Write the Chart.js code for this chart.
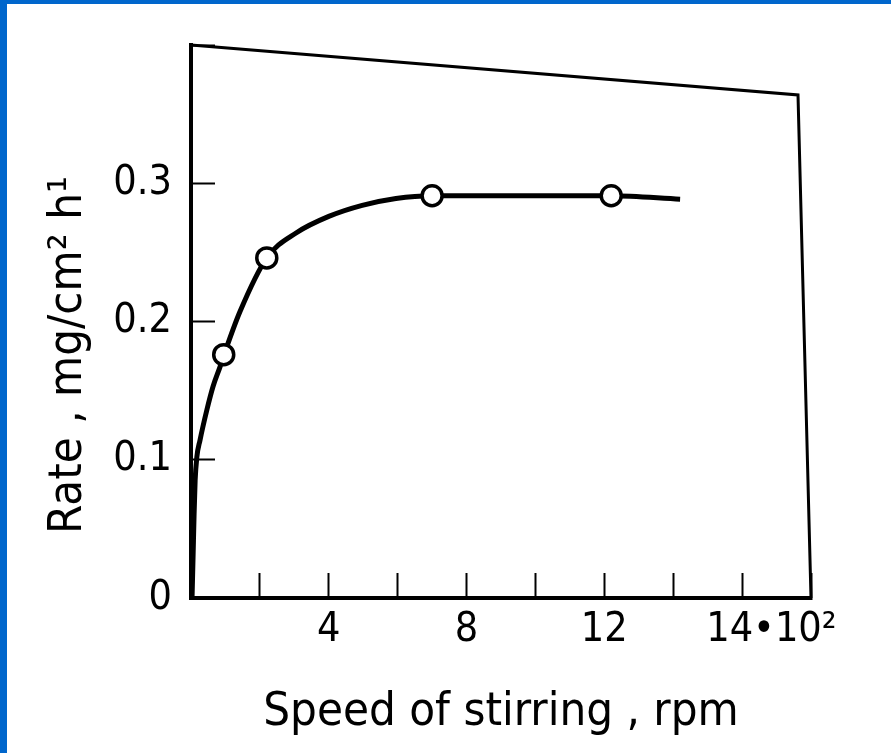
<!DOCTYPE html>
<html>
<head>
<meta charset="utf-8">
<title>Rate vs speed of stirring</title>
<script src="https://cdn.jsdelivr.net/npm/chart.js@4.4.1/dist/chart.umd.min.js"></script>
<style>
    html, body {
        margin: 0;
        padding: 0;
        width: 891px;
        height: 753px;
        background: #0066cc;
        overflow: hidden;
    }
    #frame {
        position: absolute;
        left: 7px;
        top: 4px;
        width: 884px;
        height: 749px;
        background: #ffffff;
    }
</style>
</head>
<body>
<div id="frame">
    <canvas id="myChart"></canvas>
</div>

<script>
/* Measured points (open circles), speed in 10^2 rpm */
const pointSpeed = [0.95, 2.2, 7.0, 12.2];
const pointRate = [0.176, 0.246, 0.291, 0.291];

/* Smooth curve drawn through the points */
const curveSpeed = [0.03, 0.06, 0.09, 0.12, 0.17, 0.26, 0.46, 0.64, 0.84, 0.96, 1.42, 2.2, 3.05, 4.0, 4.97, 5.95, 7.0, 9.3, 12.2, 14.2];
const curveRate = [0, 0.03, 0.061, 0.085, 0.102, 0.114, 0.136, 0.153, 0.167, 0.176, 0.207, 0.246, 0.264, 0.276, 0.284, 0.289, 0.291, 0.291, 0.291, 0.2885];

/* Axis tick labels */
const xTickValues = [4, 8, 12, 16];
const xTickLabels = ['4', '8', '12', '     14\u202210\u00b2'];
const yTickValues = [0, 0.1, 0.2, 0.3];
const yTickLabels = ['0', '0.1', '0.2', '0.3'];

const xTitle = 'Speed of stirring , rpm';
const yTitle = 'Rate , mg/cm\u00b2 h\u00b9     ';

const FONT = "'DejaVu Sans Condensed', 'Liberation Sans Narrow', 'DejaVu Sans', sans-serif";

function toXY(xs, ys) {
    return xs.map((x, i) => ({ x: x, y: ys[i] }));
}

function labelFor(value, values, labels) {
    const i = values.findIndex(v => Math.abs(v - value) < 1e-6);
    return i >= 0 ? labels[i] : '';
}

/* Fixed axis sizes, so the plot box sits where it does in the scan */
function fixSize(size) {
    return scale => {
        if (scale.isHorizontal()) {
            scale.height = size;
        } else {
            scale.width = size;
        }
        scale.paddingTop = 0;
        scale.paddingBottom = 0;
        scale.paddingLeft = 0;
        scale.paddingRight = 0;
    };
}

/* Box round the plot: right side and a slanted top edge, as in the scan */
const boxPlugin = {
    id: 'box',
    afterDraw(chart) {
        const { ctx, chartArea } = chart;
        const slant = 50;
        ctx.save();
        ctx.strokeStyle = '#000';
        ctx.lineWidth = 3;
        ctx.beginPath();
        ctx.moveTo(chartArea.left, chartArea.top);
        ctx.lineTo(chartArea.right - 13, chartArea.top + slant);
        ctx.lineTo(chartArea.right, chartArea.bottom);
        ctx.stroke();
        ctx.restore();
    }
};

const ctx = document.getElementById('myChart');

new Chart(ctx, {
    type: 'scatter',
    data: {
        datasets: [
            {
                label: 'Measured',
                data: toXY(pointSpeed, pointRate),
                showLine: false,
                pointRadius: 10,
                pointBorderWidth: 3.5,
                pointBorderColor: '#000',
                pointBackgroundColor: '#fff'
            },
            {
                label: 'Curve',
                data: toXY(curveSpeed, curveRate),
                showLine: true,
                borderColor: '#000',
                borderWidth: 5,
                pointRadius: 0,
                cubicInterpolationMode: 'monotone',
                fill: false
            }
        ]
    },
    options: {
        responsive: true,
        maintainAspectRatio: false,
        animation: false,
        layout: {
            padding: { left: 0, right: 80, top: 41, bottom: 0 }
        },
        plugins: {
            legend: { display: false },
            tooltip: { enabled: false }
        },
        scales: {
            x: {
                type: 'linear',
                min: 0,
                max: 18,
                afterFit: fixSize(155),
                border: { display: true, color: '#000', width: 4 },
                grid: {
                    drawOnChartArea: false,
                    drawTicks: true,
                    tickLength: -25,
                    tickWidth: 2,
                    tickColor: '#000'
                },
                ticks: {
                    stepSize: 2,
                    padding: 33,
                    maxRotation: 0,
                    autoSkip: false,
                    color: '#000',
                    font: { family: FONT, size: 41 },
                    callback: v => labelFor(v, xTickValues, xTickLabels)
                },
                title: {
                    display: true,
                    text: xTitle,
                    color: '#000',
                    font: { family: FONT, size: 47 },
                    padding: { top: 0, bottom: 12 }
                }
            },
            y: {
                type: 'linear',
                min: 0,
                max: 0.4,
                afterFit: fixSize(184),
                border: { display: true, color: '#000', width: 4 },
                grid: {
                    drawOnChartArea: false,
                    drawTicks: true,
                    tickLength: -24,
                    tickWidth: 2,
                    tickColor: '#000'
                },
                ticks: {
                    stepSize: 0.1,
                    padding: 43,
                    color: '#000',
                    font: { family: FONT, size: 41 },
                    callback: v => labelFor(v, yTickValues, yTickLabels)
                },
                title: {
                    display: true,
                    text: yTitle,
                    color: '#000',
                    font: { family: FONT, size: 47 },
                    padding: { top: 34, bottom: 0 }
                }
            }
        }
    },
    plugins: [boxPlugin]
});
</script>
</body>
</html>
